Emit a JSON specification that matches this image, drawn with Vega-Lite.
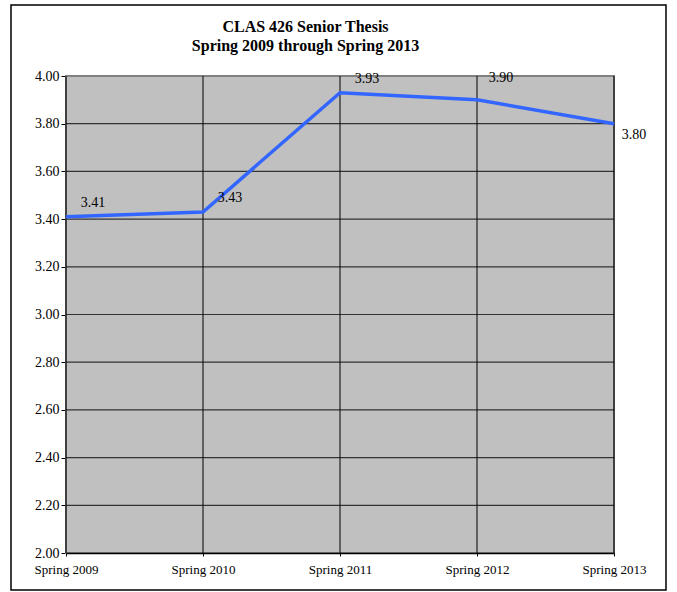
{
  "$schema": "https://vega.github.io/schema/vega-lite/v6.json",
  "autosize": {"type": "none"},
  "width": 655,
  "height": 585,
  "padding": {"left": 11, "top": 5, "right": 11, "bottom": 2},
  "background": "white",
  "view": {"stroke": "black", "strokeWidth": 1.5, "fill": "white"},
  "config": {"font": "Liberation Serif"},
  "title": {
    "text": ["CLAS 426 Senior Thesis", "Spring 2009 through Spring 2013"],
    "font": "Liberation Serif",
    "fontSize": 16,
    "fontWeight": "bold",
    "color": "black",
    "lineHeight": 19,
    "anchor": "middle",
    "baseline": "top",
    "offset": -49,
    "dx": -33
  },
  "datasets": {
    "gpa": [
      {"term": "Spring 2009", "gpa": 3.41},
      {"term": "Spring 2010", "gpa": 3.43},
      {"term": "Spring 2011", "gpa": 3.93},
      {"term": "Spring 2012", "gpa": 3.90},
      {"term": "Spring 2013", "gpa": 3.80}
    ],
    "grid": [
      {"v": 2.2}, {"v": 2.4}, {"v": 2.6}, {"v": 2.8}, {"v": 3.0},
      {"v": 3.2}, {"v": 3.4}, {"v": 3.6}, {"v": 3.8}
    ]
  },
  "data": {"name": "gpa"},
  "encoding": {
    "x": {
      "field": "term",
      "type": "ordinal",
      "scale": {"type": "point", "range": [55, 603], "padding": 0, "domain": ["Spring 2009", "Spring 2010", "Spring 2011", "Spring 2012", "Spring 2013"]},
      "axis": {
        "title": null,
        "orient": "bottom",
        "offset": -37,
        "labelAngle": 0,
        "labelFont": "Liberation Serif",
        "labelFontSize": 13,
        "labelColor": "black",
        "labelPadding": 7,
        "domainColor": "black",
        "domainWidth": 1.5,
        "tickColor": "black",
        "tickSize": 3,
        "grid": false
      }
    },
    "y": {
      "field": "gpa",
      "type": "quantitative",
      "scale": {"domain": [2, 4], "range": [548, 71], "zero": false, "nice": false},
      "axis": {
        "title": null,
        "orient": "left",
        "offset": -55,
        "values": [2.0, 2.2, 2.4, 2.6, 2.8, 3.0, 3.2, 3.4, 3.6, 3.8, 4.0],
        "format": ".2f",
        "labelFont": "Liberation Serif",
        "labelFontSize": 14,
        "labelColor": "black",
        "labelPadding": 2,
        "domainColor": "black",
        "domainWidth": 1.5,
        "tickColor": "black",
        "tickSize": 5,
        "grid": false
      }
    }
  },
  "layer": [
    {
      "mark": {"type": "rect", "fill": "#c0c0c0", "stroke": "#808080", "strokeWidth": 2},
      "encoding": {
        "x": {"datum": "Spring 2009"},
        "x2": {"datum": "Spring 2013"},
        "y": {"datum": 2},
        "y2": {"datum": 4}
      }
    },
    {
      "data": {"name": "grid"},
      "mark": {"type": "rule", "color": "#333333", "strokeWidth": 1.2},
      "encoding": {
        "x": {"datum": "Spring 2009"},
        "x2": {"datum": "Spring 2013"},
        "y": {"field": "v", "type": "quantitative"}
      }
    },
    {
      "mark": {"type": "rule", "color": "black", "strokeWidth": 1},
      "encoding": {
        "y": {"datum": 2},
        "y2": {"datum": 4}
      }
    },
    {
      "mark": {"type": "line", "color": "#3366ff", "strokeWidth": 3.5},
      "encoding": {}
    },
    {
      "transform": [{"filter": "datum.term == 'Spring 2009' || datum.term == 'Spring 2010' || datum.term == 'Spring 2011'"}],
      "mark": {"type": "text", "font": "Liberation Serif", "fontSize": 14, "color": "black", "dx": 27, "dy": -14},
      "encoding": {"text": {"field": "gpa", "type": "quantitative", "format": ".2f"}}
    },
    {
      "transform": [{"filter": "datum.term == 'Spring 2012'"}],
      "mark": {"type": "text", "font": "Liberation Serif", "fontSize": 14, "color": "black", "dx": 24, "dy": -22},
      "encoding": {"text": {"field": "gpa", "type": "quantitative", "format": ".2f"}}
    },
    {
      "transform": [{"filter": "datum.term == 'Spring 2013'"}],
      "mark": {"type": "text", "font": "Liberation Serif", "fontSize": 14, "color": "black", "dx": 20, "dy": 11},
      "encoding": {"text": {"field": "gpa", "type": "quantitative", "format": ".2f"}}
    }
  ]
}
